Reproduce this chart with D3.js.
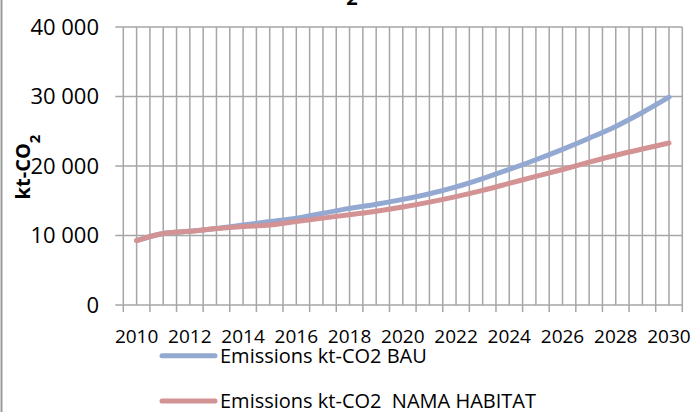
<!DOCTYPE html>
<html>
<head>
<meta charset="utf-8">
<script src="https://cdn.jsdelivr.net/npm/d3@7"></script>
<style>
  html, body { margin: 0; padding: 0; background: #fff; }
  svg { display: block; }
  text { font-family: "Open Sans", sans-serif; fill: #000; }
</style>
</head>
<body>
<svg id="chart" width="697" height="412"></svg>
<script>
// ---- data ----
const years = [2010, 2011, 2012, 2013, 2014, 2015, 2016, 2017, 2018, 2019, 2020,
               2021, 2022, 2023, 2024, 2025, 2026, 2027, 2028, 2029, 2030];
const bau = [9250, 10300, 10600, 11000, 11500, 12000, 12500, 13200, 13900, 14500, 15200,
             16000, 17000, 18200, 19500, 20900, 22400, 24000, 25700, 27700, 29900];
const nama = [9250, 10300, 10600, 11000, 11300, 11500, 12000, 12500, 13000, 13500, 14100,
              14800, 15600, 16500, 17500, 18500, 19500, 20550, 21550, 22450, 23300];
const yTicks = [0, 10000, 20000, 30000, 40000];
const xLabels = [2010, 2012, 2014, 2016, 2018, 2020, 2022, 2024, 2026, 2028, 2030];
const seriesNames = ["Emissions kt-CO2 BAU", "Emissions kt-CO2\u00A0 NAMA HABITAT"];
const seriesColors = ["#93A9D1", "#D39293"];

// ---- layout ----
const svg = d3.select("#chart");
const L = 123.3, R = 682.3, T = 27, B = 305;
const gridColor = "#A6A6A6";

const x = d3.scaleBand().domain(years).range([L, R]).paddingInner(0).paddingOuter(0);
const xc = d => x(d) + x.bandwidth() / 2;
const y = d3.scaleLinear().domain([0, 40000]).range([B, T]);

const fmt = v => d3.format(",")(v).replace(/,/g, " ");

// left chart border
svg.append("line").attr("x1", 1.5).attr("x2", 1.5).attr("y1", 0).attr("y2", 412)
  .attr("stroke", "#999").attr("stroke-width", 2);

// title fragment (subscript of a cut-off title)
svg.append("text").attr("x", 352).attr("y", 5).attr("text-anchor", "middle")
  .attr("font-weight", "bold").attr("font-size", 20).text("2");

// vertical gridlines: category boundaries and centers
const g = svg.append("g");
const vx = [];
years.forEach(d => { vx.push(x(d)); vx.push(xc(d)); });
vx.push(R);
g.selectAll("line.vg").data(vx).join("line").attr("class", "vg")
  .attr("x1", d => d).attr("x2", d => d).attr("y1", T).attr("y2", B)
  .attr("stroke", gridColor).attr("stroke-width", 1.5);

// horizontal gridlines with outside ticks
g.selectAll("line.hg").data(yTicks).join("line").attr("class", "hg")
  .attr("x1", L - 8).attr("x2", R).attr("y1", d => y(d)).attr("y2", d => y(d))
  .attr("stroke", gridColor).attr("stroke-width", 1.5);

// x tick marks at category boundaries
const xt = years.map(d => x(d)).concat([R]);
g.selectAll("line.xt").data(xt).join("line").attr("class", "xt")
  .attr("x1", d => d).attr("x2", d => d).attr("y1", B).attr("y2", B + 7)
  .attr("stroke", gridColor).attr("stroke-width", 1.5);

// y labels
svg.selectAll("text.yl").data(yTicks).join("text").attr("class", "yl")
  .attr("x", 99).attr("y", d => y(d) + 7.5).attr("text-anchor", "end")
  .attr("font-size", 22).text(d => fmt(d));

// x labels
svg.selectAll("text.xl").data(xLabels).join("text").attr("class", "xl")
  .attr("x", d => xc(d)).attr("y", 343.3).attr("text-anchor", "middle")
  .attr("font-size", 19).text(d => d);

// y axis title
const yt = svg.append("text").attr("transform", "translate(29.5,167) rotate(-90)")
  .attr("text-anchor", "middle").attr("font-weight", "bold").attr("font-size", 20);
yt.append("tspan").text("kt-CO");
yt.append("tspan").attr("baseline-shift", "sub").attr("font-size", 15).text("2");

// lines
const line = d3.line().x((d, i) => xc(years[i])).y(d => y(d)).curve(d3.curveMonotoneX);
[bau, nama].forEach((s, k) => {
  svg.append("path").datum(s).attr("d", line).attr("fill", "none")
    .attr("stroke", seriesColors[k]).attr("stroke-width", 5)
    .attr("stroke-linecap", "round").attr("stroke-linejoin", "round");
});

// legend
const legY = [355.7, 401];
seriesNames.forEach((n, k) => {
  svg.append("line").attr("x1", 162).attr("x2", 215).attr("y1", legY[k]).attr("y2", legY[k])
    .attr("stroke", seriesColors[k]).attr("stroke-width", 5).attr("stroke-linecap", "round");
  svg.append("text").attr("x", 220).attr("y", legY[k] + 7).attr("font-size", 20)
    .style("white-space", "pre").text(n);
});
</script>
</body>
</html>
